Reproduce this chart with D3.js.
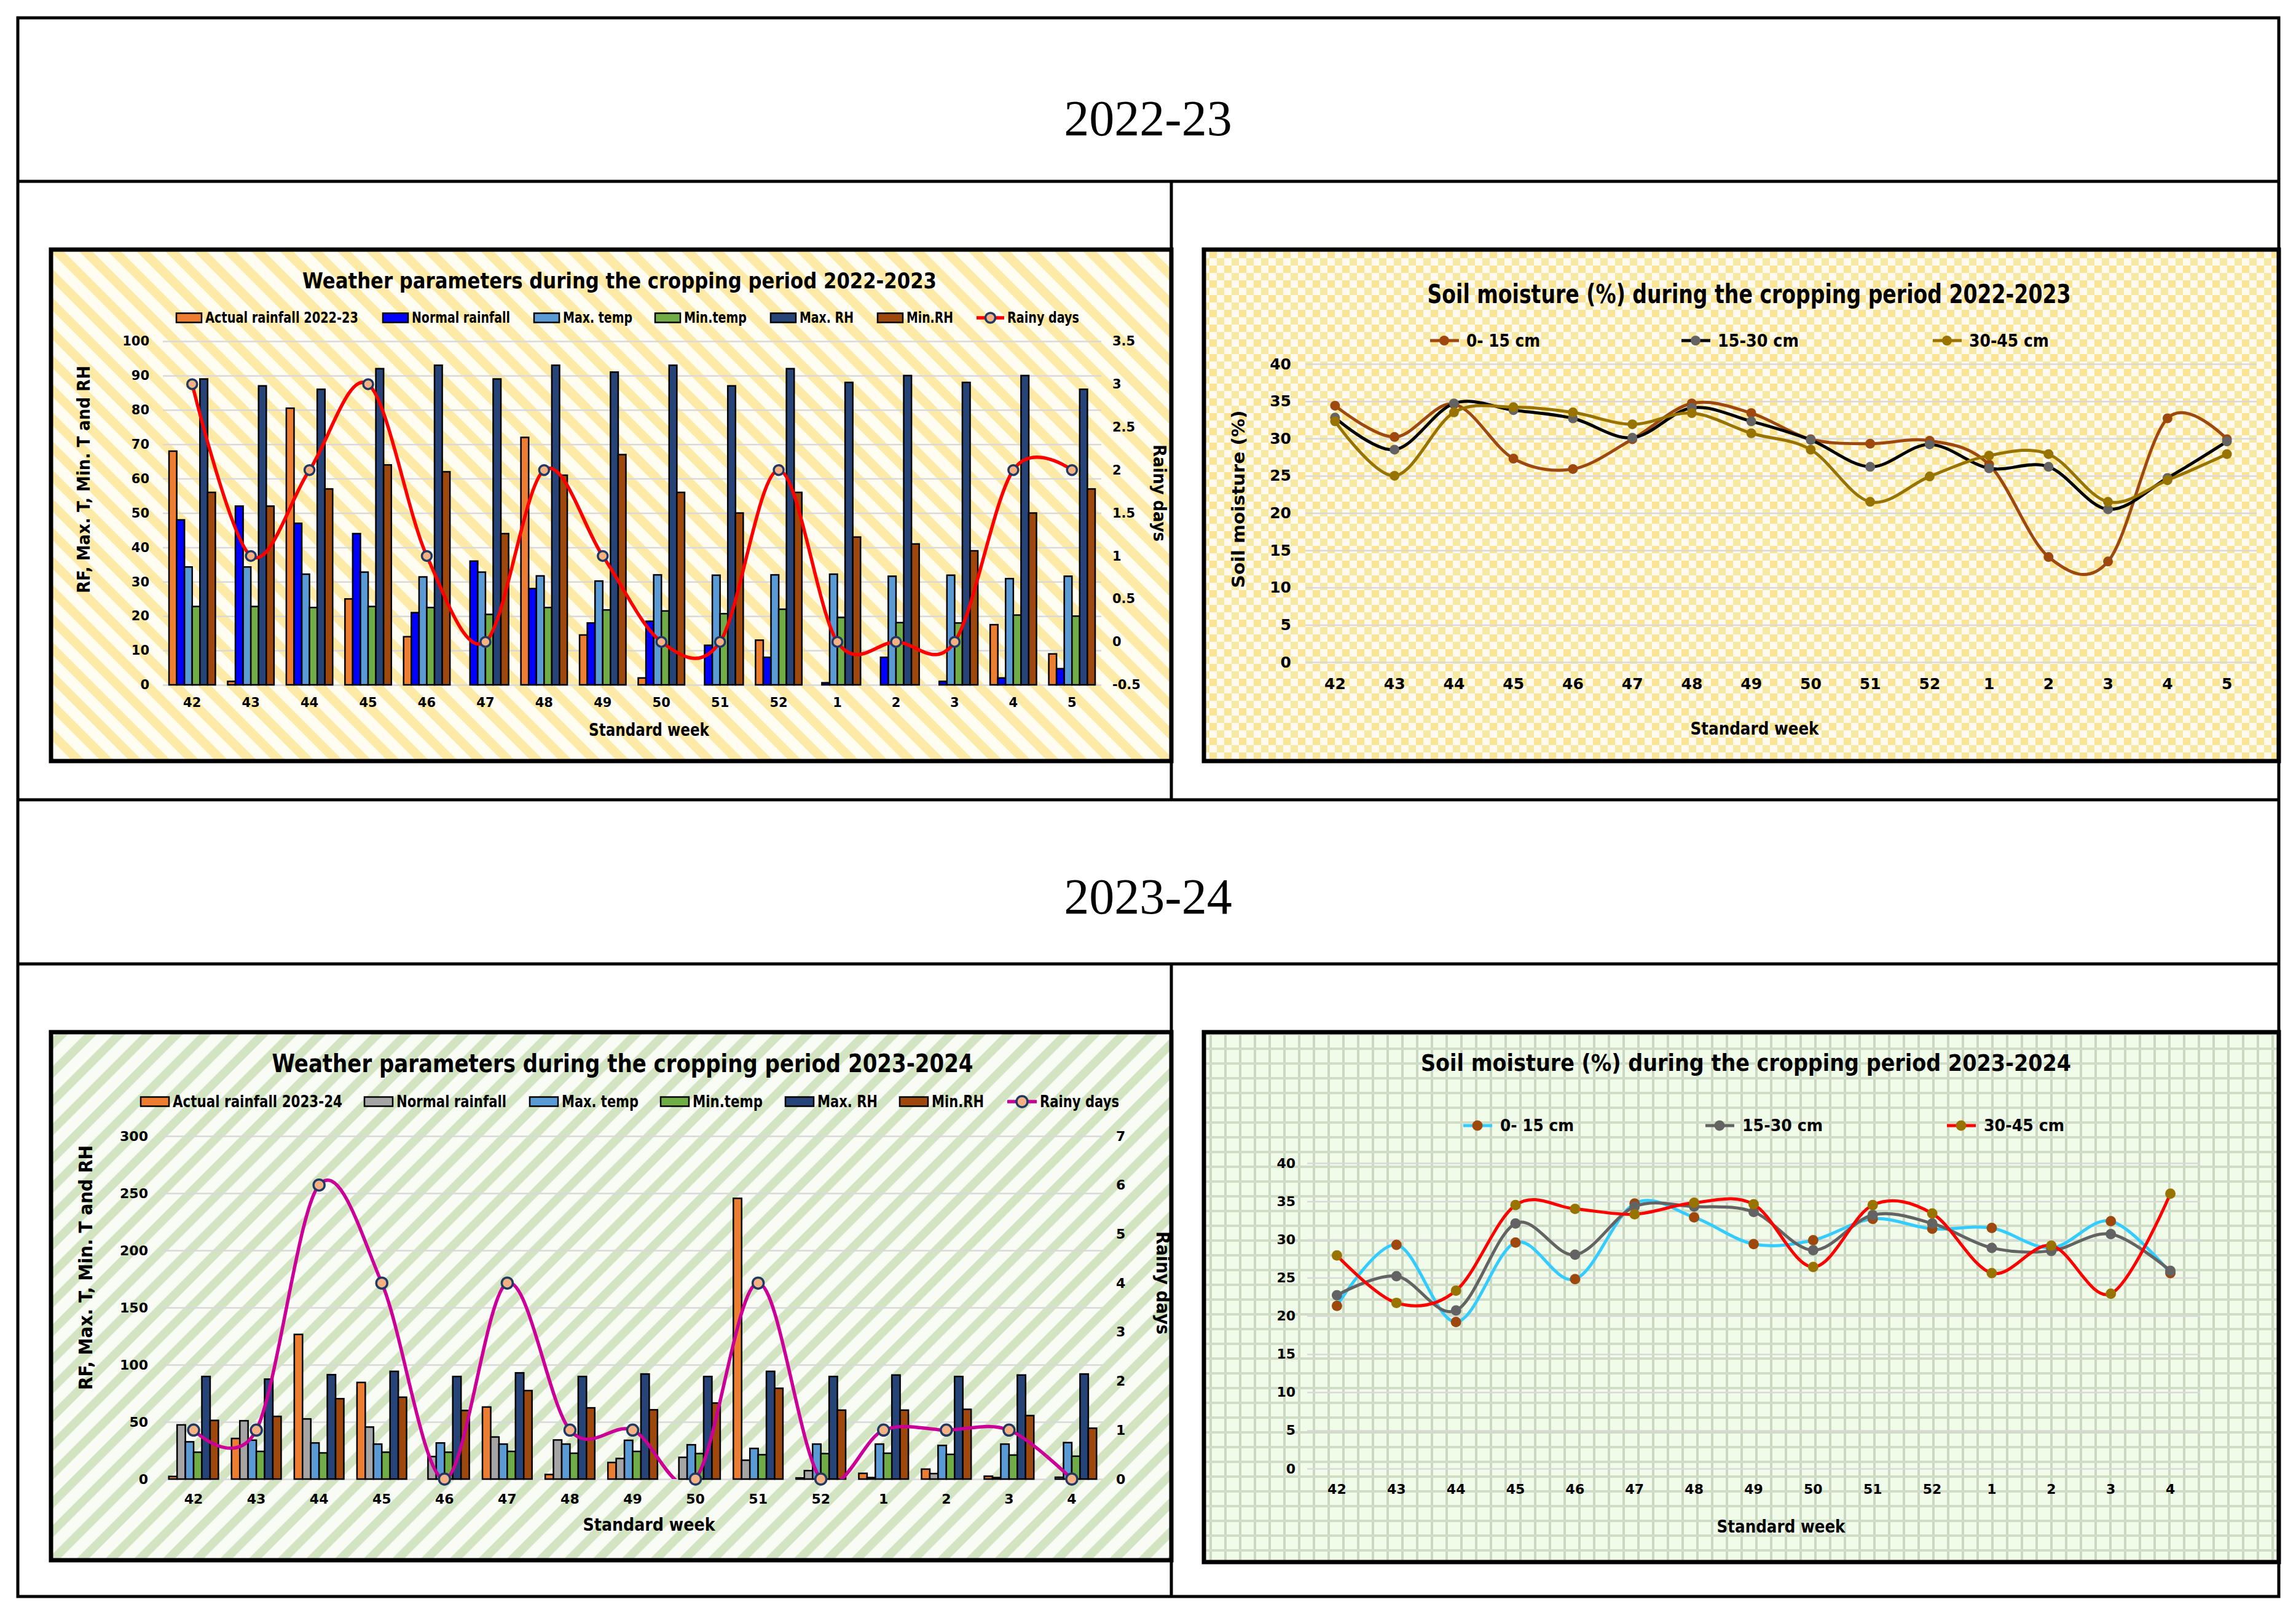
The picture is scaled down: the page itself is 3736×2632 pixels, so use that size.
<!DOCTYPE html>
<html>
<head>
<meta charset="utf-8">
<script src="https://cdn.jsdelivr.net/npm/d3@7"></script>
<style>
  html, body { margin: 0; padding: 0; background: #fff; }
</style>
</head>
<body>
<svg id="fig" width="3736" height="2632"></svg>
<script>
// ---- data: 2022-23 weather ----
const weeks1 = ["42", "43", "44", "45", "46", "47", "48", "49", "50", "51", "52", "1", "2", "3", "4", "5"];
const actualRF1 = [68, 1, 80.5, 25, 14, 0, 72, 14.5, 2, 0, 13, 0, 0, 0, 17.5, 9];
const normalRF1 = [48, 52, 47, 44, 21, 36, 28, 18, 18.5, 11.5, 8, 0.6, 8, 1, 2, 4.7];
const maxT1 = [34.3, 34.3, 32.2, 32.8, 31.4, 32.8, 31.7, 30.2, 32, 31.9, 32, 32.2, 31.6, 31.9, 30.9, 31.6];
const minT1 = [22.8, 22.8, 22.5, 22.8, 22.5, 20.5, 22.5, 21.8, 21.5, 20.7, 22, 19.6, 18.1, 18, 20.3, 20];
const maxRH1 = [89, 87, 86, 92, 93, 89, 93, 91, 93, 87, 92, 88, 90, 88, 90, 86];
const minRH1 = [56, 52, 57, 64, 62, 44, 61, 67, 56, 50, 56, 43, 41, 39, 50, 57];
const rainyDays1 = [3, 1, 2, 3, 1, 0, 2, 1, 0, 0, 2, 0, 0, 0, 2, 2];

// ---- data: 2023-24 weather ----
const weeks2 = ["42", "43", "44", "45", "46", "47", "48", "49", "50", "51", "52", "1", "2", "3", "4"];
const actualRF2 = [2.3, 35.5, 126.5, 84.5, 0, 63, 4, 14.5, 0, 245.5, 1, 5, 8.7, 2.5, 0];
const normalRF2 = [47.4, 51, 52.6, 45.5, 19.7, 36.8, 34.2, 18, 19, 16.5, 7.4, 1.3, 4.8, 1.3, 1.6];
const maxT2 = [32.6, 34, 31.6, 30.6, 31.6, 30.6, 30.6, 33.9, 30, 26.8, 30.6, 30.6, 29.4, 30.6, 31.9];
const minT2 = [23.5, 24.2, 22.9, 23.5, 23.5, 24.2, 22.6, 24.2, 22.3, 21.3, 22.3, 22.6, 21.6, 21, 20];
const maxRH2 = [89.7, 87.4, 91.3, 94.2, 89.7, 92.9, 89.7, 91.9, 89.7, 94.2, 89.7, 91, 89.7, 91, 91.9];
const minRH2 = [51.3, 54.8, 70.3, 71.6, 60, 77.4, 62.3, 60.6, 66.5, 79.4, 60.3, 60.3, 61, 55.5, 44.5];
const rainyDays2 = [1, 1, 6, 4, 0, 4, 1, 1, 0, 4, 0, 1, 1, 1, 0];

// ---- data: soil moisture (%) ----
const soil1_0_15 = [34.4, 30.2, 34.6, 27.3, 25.9, 29.9, 34.7, 33.4, 29.9, 29.3, 29.7, 26.5, 14.1, 13.5, 32.7, 29.9];
const soil1_15_30 = [32.8, 28.5, 34.7, 33.8, 32.7, 30.1, 34.1, 32.3, 29.8, 26.2, 29.2, 26.0, 26.2, 20.5, 24.7, 29.6];
const soil1_30_45 = [32.3, 25.0, 33.5, 34.2, 33.5, 31.9, 33.4, 30.7, 28.5, 21.5, 24.9, 27.7, 27.9, 21.5, 24.4, 27.9];
const soil2_0_15 = [21.3, 29.3, 19.2, 29.6, 24.8, 34.7, 32.9, 29.4, 29.9, 32.7, 31.4, 31.5, 28.9, 32.4, 25.6];
const soil2_15_30 = [22.7, 25.2, 20.7, 32.1, 28.0, 34.3, 34.3, 33.6, 28.6, 33.2, 32.1, 28.9, 28.5, 30.7, 25.9];
const soil2_30_45 = [27.9, 21.7, 23.3, 34.5, 34.0, 33.3, 34.8, 34.6, 26.4, 34.5, 33.4, 25.6, 29.2, 22.9, 36.0];

// tick labels
const rfTicks1 = [0, 10, 20, 30, 40, 50, 60, 70, 80, 90, 100];
const rainyTicks1 = [-0.5, 0, 0.5, 1, 1.5, 2, 2.5, 3, 3.5];
const rfTicks2 = [0, 50, 100, 150, 200, 250, 300];
const rainyTicks2 = [0, 1, 2, 3, 4, 5, 6, 7];
const soilTicks = [0, 5, 10, 15, 20, 25, 30, 35, 40];
const depthNames = ["0- 15 cm", "15-30 cm", "30-45 cm"];

const FONT = "'DejaVu Sans', Verdana, sans-serif";
const svg = d3.select("#fig");
const defs = svg.append("defs");

// background patterns
const pYs = defs.append("pattern").attr("id", "stripeYellow").attr("patternUnits", "userSpaceOnUse")
  .attr("width", 33).attr("height", 33).attr("patternTransform", "rotate(-45)");
pYs.append("rect").attr("width", 33).attr("height", 33).attr("fill", "#fffcf2");
pYs.append("rect").attr("width", 15).attr("height", 33).attr("fill", "#fdeaa6");

const pYc = defs.append("pattern").attr("id", "checkYellow").attr("patternUnits", "userSpaceOnUse")
  .attr("width", 24).attr("height", 24);
pYc.append("rect").attr("width", 24).attr("height", 24).attr("fill", "#fff9ef");
pYc.append("rect").attr("width", 12).attr("height", 12).attr("fill", "#fbe595");
pYc.append("rect").attr("x", 12).attr("y", 12).attr("width", 12).attr("height", 12).attr("fill", "#f6e9a4");

const pGs = defs.append("pattern").attr("id", "stripeGreen").attr("patternUnits", "userSpaceOnUse")
  .attr("width", 33).attr("height", 33).attr("patternTransform", "rotate(45)");
pGs.append("rect").attr("width", 33).attr("height", 33).attr("fill", "#f8fcf4");
pGs.append("rect").attr("width", 14).attr("height", 33).attr("fill", "#d2e4c2");

const pGp = defs.append("pattern").attr("id", "plaidGreen").attr("patternUnits", "userSpaceOnUse")
  .attr("width", 24).attr("height", 24);
pGp.append("rect").attr("width", 24).attr("height", 24).attr("fill", "#f1fbea");
pGp.append("rect").attr("width", 4).attr("height", 24).attr("fill", "#cad8c1");
pGp.append("rect").attr("width", 24).attr("height", 4).attr("fill", "#cfdcc6");

function fitText(t, w) {
  if (w) t.attr("textLength", w).attr("lengthAdjust", "spacingAndGlyphs");
  return t;
}

function label(g, x, y, txt, size, w, anchor = "middle", rot = 0) {
  const t = g.append("text")
    .attr("transform", `translate(${x},${y}) rotate(${rot})`)
    .attr("text-anchor", anchor)
    .attr("dominant-baseline", "central")
    .attr("font-family", FONT)
    .attr("font-weight", "bold")
    .attr("font-size", size)
    .attr("fill", "#000")
    .text(txt);
  return fitText(t, w);
}

// ---- page frame ----
const frame = svg.append("g").attr("fill", "none").attr("stroke", "#000").attr("stroke-width", 5);
frame.append("rect").attr("x", 29).attr("y", 29).attr("width", 3679).attr("height", 2568);
[295, 1301, 1568].forEach(yy => frame.append("line").attr("x1", 29).attr("x2", 3708).attr("y1", yy).attr("y2", yy));
frame.append("line").attr("x1", 1906).attr("x2", 1906).attr("y1", 295).attr("y2", 1301);
frame.append("line").attr("x1", 1906).attr("x2", 1906).attr("y1", 1568).attr("y2", 2597);

svg.append("text").attr("x", 1868).attr("y", 192).attr("text-anchor", "middle").attr("dominant-baseline", "central")
  .attr("font-family", "'Liberation Serif', 'DejaVu Serif', serif").attr("font-size", 82).text("2022-23");
svg.append("text").attr("x", 1868).attr("y", 1458).attr("text-anchor", "middle").attr("dominant-baseline", "central")
  .attr("font-family", "'Liberation Serif', 'DejaVu Serif', serif").attr("font-size", 82).text("2023-24");

function chartBox(g, box, bg) {
  g.append("rect").attr("x", box[0]).attr("y", box[1])
    .attr("width", box[2] - box[0]).attr("height", box[3] - box[1])
    .attr("fill", `url(#${bg})`).attr("stroke", "#000").attr("stroke-width", 7);
}

function styleAxis(ax, size) {
  ax.attr("font-family", FONT).attr("font-weight", "bold").attr("font-size", size);
  ax.select(".domain").remove();
  ax.selectAll("text").attr("fill", "#000");
}

// ---- weather chart (grouped bars + rainy days line) ----
function weatherChart(c) {
  const g = svg.append("g");
  chartBox(g, c.box, c.bg);
  const p = c.plot;

  const x0 = d3.scaleBand().domain(c.weeks).range([p.left, p.right]).paddingInner(0.21).paddingOuter(0.105);
  const x1 = d3.scaleBand().domain(c.series.map(s => s.name)).range([0, x0.bandwidth()]);
  const y = d3.scaleLinear().domain(c.yDomain).range([p.bottom, p.top]);
  const yR = d3.scaleLinear().domain(c.yRDomain).range([p.bottom, p.top]);

  const axL = g.append("g").attr("transform", `translate(${p.left},0)`)
    .call(d3.axisLeft(y).tickValues(c.yTicks).tickSize(-(p.right - p.left)).tickPadding(c.padL).tickFormat(d => String(d)));
  styleAxis(axL, c.tickSize);
  axL.selectAll("line").attr("stroke", "#d9d9d9").attr("stroke-width", 2.5);

  const axR = g.append("g").attr("transform", `translate(${p.right},0)`)
    .call(d3.axisRight(yR).tickValues(c.yRTicks).tickSize(0).tickPadding(c.padR).tickFormat(d => String(d)));
  styleAxis(axR, c.tickSize);

  const axB = g.append("g").attr("transform", `translate(0,${p.bottom})`)
    .call(d3.axisBottom(x0).tickSize(0));
  styleAxis(axB, c.tickSize);
  axB.selectAll("text").attr("y", c.xLabelY - p.bottom).attr("dy", "0.35em");

  c.series.forEach(s => {
    g.append("g").selectAll("rect")
      .data(c.weeks.map((w, i) => ({ w, v: s.values[i] })).filter(d => d.v > 0))
      .join("rect")
      .attr("x", d => x0(d.w) + x1(s.name))
      .attr("width", x1.bandwidth())
      .attr("y", d => y(d.v))
      .attr("height", d => y(0) - y(d.v))
      .attr("fill", s.color)
      .attr("stroke", "#000")
      .attr("stroke-width", 2.5);
  });

  const clipId = c.id + "-clip";
  defs.append("clipPath").attr("id", clipId).append("rect")
    .attr("x", p.left).attr("y", p.top).attr("width", p.right - p.left).attr("height", p.bottom - p.top);

  const cx = (d, i) => x0(c.weeks[i]) + x0.bandwidth() / 2;
  const rainyLine = d3.line().x(cx).y(d => yR(d)).curve(d3.curveCatmullRom.alpha(0));
  g.append("path").datum(c.rainy).attr("d", rainyLine).attr("fill", "none")
    .attr("stroke", c.rainyColor).attr("stroke-width", c.lineW).attr("clip-path", `url(#${clipId})`);
  g.append("g").selectAll("circle").data(c.rainy).join("circle")
    .attr("cx", cx).attr("cy", d => yR(d)).attr("r", c.markR)
    .attr("fill", "#f4b183").attr("stroke", "#1f3864").attr("stroke-width", 3.5);

  // legend
  const lg = g.append("g");
  c.series.forEach((s, i) => {
    const lx = c.legend.x[i];
    lg.append("rect").attr("x", lx).attr("y", c.legend.y - c.legend.h / 2)
      .attr("width", c.legend.w).attr("height", c.legend.h)
      .attr("fill", s.color).attr("stroke", "#000").attr("stroke-width", 2.5);
    label(lg, lx + c.legend.w + 6, c.legend.y, s.name, c.legend.size, c.legend.tw[i], "start");
  });
  const rl = c.legend.rainy;
  lg.append("line").attr("x1", rl[0]).attr("x2", rl[1]).attr("y1", c.legend.y).attr("y2", c.legend.y)
    .attr("stroke", c.rainyColor).attr("stroke-width", c.lineW);
  lg.append("circle").attr("cx", (rl[0] + rl[1]) / 2).attr("cy", c.legend.y).attr("r", c.markR)
    .attr("fill", "#f4b183").attr("stroke", "#1f3864").attr("stroke-width", 3.5);
  label(lg, rl[1] + 5, c.legend.y, "Rainy days", c.legend.size, c.legend.rainyW, "start");

  label(g, c.title.x, c.title.y, c.title.text, c.title.size, c.title.w);
  label(g, c.yTitle.x, c.yTitle.y, "RF, Max. T, Min. T and RH", c.yTitle.size, c.yTitle.w, "middle", -90);
  label(g, c.yRTitle.x, c.yRTitle.y, "Rainy days", c.yRTitle.size, c.yRTitle.w, "middle", 90);
  label(g, c.xTitle.x, c.xTitle.y, "Standard week", c.xTitle.size, c.xTitle.w);
}

// ---- soil moisture chart (smoothed lines) ----
function soilChart(c) {
  const g = svg.append("g");
  chartBox(g, c.box, c.bg);
  const p = c.plot;

  const x = d3.scaleBand().domain(c.weeks).range([p.left, p.right]);
  const y = d3.scaleLinear().domain([0, 40]).range([p.bottom, p.top]);

  const axL = g.append("g").attr("transform", `translate(${p.left},0)`)
    .call(d3.axisLeft(y).tickValues(soilTicks).tickSize(-(p.right - p.left)).tickPadding(c.padL));
  styleAxis(axL, c.tickSize);
  axL.selectAll("line").attr("stroke", "#d9d9d9").attr("stroke-width", 2.5);

  const axB = g.append("g").attr("transform", `translate(0,${p.bottom})`)
    .call(d3.axisBottom(x).tickSize(0));
  styleAxis(axB, c.tickSize);
  axB.selectAll("text").attr("y", c.xLabelY - p.bottom).attr("dy", "0.35em");

  const cx = (d, i) => x(c.weeks[i]) + x.bandwidth() / 2;
  const line = d3.line().x(cx).y(d => y(d)).curve(d3.curveCatmullRom.alpha(0));

  c.series.forEach(s => {
    g.append("path").datum(s.values).attr("d", line).attr("fill", "none")
      .attr("stroke", s.line).attr("stroke-width", c.lineW);
    g.append("g").selectAll("circle").data(s.values).join("circle")
      .attr("cx", cx).attr("cy", d => y(d)).attr("r", c.markR).attr("fill", s.marker);
  });

  const lg = g.append("g");
  c.series.forEach((s, i) => {
    const lx = c.legend.x[i];
    lg.append("line").attr("x1", lx).attr("x2", lx + 47).attr("y1", c.legend.y).attr("y2", c.legend.y)
      .attr("stroke", s.line).attr("stroke-width", c.lineW);
    lg.append("circle").attr("cx", lx + 23).attr("cy", c.legend.y).attr("r", c.markR).attr("fill", s.marker);
    label(lg, lx + c.legend.tx, c.legend.y, s.name, c.legend.size, c.legend.tw[i], "start");
  });

  label(g, c.title.x, c.title.y, c.title.text, c.title.size, c.title.w);
  if (c.yTitle) label(g, c.yTitle.x, c.yTitle.y, "Soil moisture (%)", c.yTitle.size, c.yTitle.w, "middle", -90);
  label(g, c.xTitle.x, c.xTitle.y, "Standard week", c.xTitle.size, c.xTitle.w);
}

weatherChart({
  id: "w1", bg: "stripeYellow",
  box: [83, 406, 1906, 1238],
  plot: { left: 265, right: 1792, top: 555, bottom: 1114 },
  weeks: weeks1,
  series: [
    { name: "Actual rainfall 2022-23", values: actualRF1, color: "#ed7d31" },
    { name: "Normal rainfall", values: normalRF1, color: "#0000ff" },
    { name: "Max. temp", values: maxT1, color: "#5b9bd5" },
    { name: "Min.temp", values: minT1, color: "#70ad47" },
    { name: "Max. RH", values: maxRH1, color: "#264478" },
    { name: "Min.RH", values: minRH1, color: "#9e480e" }
  ],
  rainy: rainyDays1, rainyColor: "#ff0000",
  yDomain: [0, 100], yTicks: rfTicks1, yRDomain: [-0.5, 3.5], yRTicks: rainyTicks1,
  tickSize: 21, padL: 22, padR: 18, xLabelY: 1143,
  lineW: 5.5, markR: 8,
  legend: { y: 517, w: 41, h: 15, size: 24, x: [287, 623, 869, 1066, 1254, 1428],
            tw: [249, 160, 113, 102, 88, 76], rainy: [1589, 1634], rainyW: 117 },
  title: { x: 1008, y: 456, size: 36, w: 1032, text: "Weather parameters during the cropping period 2022-2023" },
  yTitle: { x: 136, y: 780, size: 28, w: 370 },
  yRTitle: { x: 1886, y: 802, size: 28, w: 158 },
  xTitle: { x: 1056, y: 1187, size: 28, w: 196 }
});

weatherChart({
  id: "w2", bg: "stripeGreen",
  box: [83, 1679, 1906, 2538],
  plot: { left: 264, right: 1795, top: 1848, bottom: 2406 },
  weeks: weeks2,
  series: [
    { name: "Actual rainfall 2023-24", values: actualRF2, color: "#ed7d31" },
    { name: "Normal rainfall", values: normalRF2, color: "#a5a5a5" },
    { name: "Max. temp", values: maxT2, color: "#5b9bd5" },
    { name: "Min.temp", values: minT2, color: "#70ad47" },
    { name: "Max. RH", values: maxRH2, color: "#264478" },
    { name: "Min.RH", values: minRH2, color: "#9e480e" }
  ],
  rainy: rainyDays2, rainyColor: "#cc0099",
  yDomain: [0, 300], yTicks: rfTicks2, yRDomain: [0, 7], yRTicks: rainyTicks2,
  tickSize: 22, padL: 23, padR: 21, xLabelY: 2438,
  lineW: 5.5, markR: 9,
  legend: { y: 1792, w: 46, h: 15, size: 26, x: [229, 593, 862, 1075, 1278, 1464],
            tw: [276, 179, 125, 114, 98, 85], rainy: [1639, 1687], rainyW: 129 },
  title: { x: 1013, y: 1730, size: 40, w: 1141, text: "Weather parameters during the cropping period 2023-2024" },
  yTitle: { x: 139, y: 2062, size: 30, w: 398 },
  yRTitle: { x: 1892, y: 2087, size: 30, w: 168 },
  xTitle: { x: 1056, y: 2480, size: 28, w: 215 }
});

soilChart({
  bg: "checkYellow",
  box: [1959, 406, 3708, 1238],
  plot: { left: 2124, right: 3672, top: 592, bottom: 1077 },
  weeks: weeks1,
  series: [
    { name: depthNames[0], values: soil1_0_15, line: "#9e480e", marker: "#9e480e" },
    { name: depthNames[1], values: soil1_15_30, line: "#000000", marker: "#636363" },
    { name: depthNames[2], values: soil1_30_45, line: "#997300", marker: "#997300" }
  ],
  tickSize: 25, padL: 23, xLabelY: 1112, lineW: 5, markR: 8,
  legend: { y: 554, size: 28, x: [2327, 2736, 3145], tx: 59, tw: [120, 132, 130] },
  title: { x: 2846, y: 478, size: 42, w: 1047, text: "Soil moisture (%) during the cropping period 2022-2023" },
  yTitle: { x: 2015, y: 812, size: 28, w: 289 },
  xTitle: { x: 2855, y: 1185, size: 28, w: 209 }
});

soilChart({
  bg: "plaidGreen",
  box: [1959, 1679, 3708, 2541],
  plot: { left: 2127, right: 3580, top: 1892, bottom: 2389 },
  weeks: weeks2,
  series: [
    { name: depthNames[0], values: soil2_0_15, line: "#33ccff", marker: "#9e480e" },
    { name: depthNames[1], values: soil2_15_30, line: "#636363", marker: "#636363" },
    { name: depthNames[2], values: soil2_30_45, line: "#ff0000", marker: "#997300" }
  ],
  tickSize: 22, padL: 19, xLabelY: 2422, lineW: 5, markR: 8.5,
  legend: { y: 1831, size: 26, x: [2381, 2775, 3168], tx: 60, tw: [120, 131, 131] },
  title: { x: 2841, y: 1729, size: 37, w: 1058, text: "Soil moisture (%) during the cropping period 2023-2024" },
  xTitle: { x: 2898, y: 2483, size: 28, w: 209 }
});
</script>
</body>
</html>
